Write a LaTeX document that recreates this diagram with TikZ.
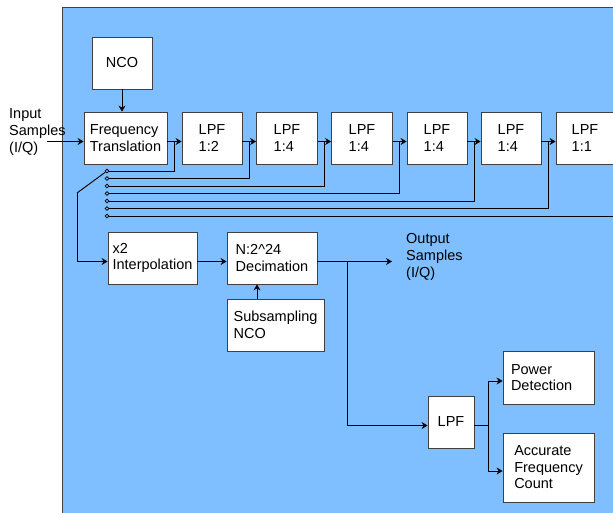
\documentclass[tikz,border=0pt]{standalone}
\usepackage{fontspec}
\setmainfont{Liberation Sans}
\usepackage{tikz}
\usetikzlibrary{arrows.meta,calc,positioning}
\definecolor{diagramblue}{HTML}{80BFFF}
\definecolor{framegray}{HTML}{404040}

\begin{document}
\begin{tikzpicture}[
  x=1pt, y=-1pt,
  >={Stealth[length=6pt,width=7pt]},
  box/.style={draw=framegray, fill=white, line width=0.8pt, align=left,
    inner sep=0pt, font=\fontsize{14.5}{16.5}\selectfont},
  lbl/.style={align=left, inner sep=0pt, font=\fontsize{14.5}{17}\selectfont},
  swpin/.style={circle, draw, fill=diagramblue, inner sep=0pt,
    minimum size=3.6pt, line width=0.7pt},
  wire/.style={line width=0.9pt},
  flow/.style={->, line width=0.9pt}
]
\useasboundingbox (0,0) rectangle (613,512);
\fill[white] (0,0) rectangle (613,512);
\draw[framegray, fill=diagramblue, line width=0.8pt] (62,7) rectangle (640,540);
\node[box,minimum width=60pt,minimum height=52pt] (nco) at (122,63) {NCO};
\node[box,minimum width=83pt,minimum height=52pt] (ft) at (125.5,138)
  {Frequency\\Translation};
\node[box,minimum width=60pt,minimum height=52pt] (lpfa) at (212,138) {LPF\\1:2};
\node[box,minimum width=61pt,minimum height=52pt] (lpfb) at (287,138) {LPF\\1:4};
\node[box,minimum width=61pt,minimum height=52pt] (lpfc) at (362,138) {LPF\\1:4};
\node[box,minimum width=60pt,minimum height=52pt] (lpfd) at (437,138) {LPF\\1:4};
\node[box,minimum width=60pt,minimum height=52pt] (lpfe) at (511,138) {LPF\\1:4};
\node[box,minimum width=58pt,minimum height=52pt] (lpff) at (585,138) {LPF\\1:1};
\node[box,minimum width=89pt,minimum height=52pt] (interp) at (152.5,258)
  {x2\\Interpolation};
\node[box,minimum width=90pt,minimum height=52pt] (decim) at (272,258)
  {N:2\^{}24\\Decimation};
\node[box,minimum width=97pt,minimum height=52pt] (subnco) at (275.5,325)
  {Subsampling\\NCO};
\node[box,minimum width=46pt,minimum height=52pt] (lpf) at (451,422) {LPF};
\node[box,text width=75pt,inner xsep=8pt,minimum height=53pt] (power)
  at (548.5,377.5) {Power\\Detection};
\node[box,minimum width=91pt,minimum height=69pt] (count) at (548.5,467.5)
  {Accurate\\Frequency\\Count};
\node[lbl,anchor=west] (inlbl) at (9,132) {Input\\Samples\\(I/Q)};
\node[lbl,anchor=west] (outlbl) at (406,257) {Output\\Samples\\(I/Q)};
\foreach \k in {0,...,6}
  \node[swpin] (sw\k) at (107,171+7.5*\k) {};
\coordinate (in) at (47,141.5);
\draw[flow] (in) -- ([yshift=-3.5pt]ft.west);
\draw[flow] (nco.south) -- (nco.south |- ft.north);
\foreach \a/\b/\k in {ft/lpfa/0,lpfa/lpfb/1,lpfb/lpfc/2,lpfc/lpfd/3,lpfd/lpfe/4,lpfe/lpff/5} {
  \draw[flow] ([yshift=-3.5pt]\a.east) -- ([yshift=-3.5pt]\b.west);
  \coordinate (tap\k) at ($([yshift=-3.5pt]\a.east)!0.5!([yshift=-3.5pt]\b.west)$);
  \draw[wire] (tap\k) |- (sw\k);
}
\coordinate (tap6) at (640,216);
\draw[wire] (tap6) -- (sw6);
\coordinate (arm) at (77,193);
\draw[wire] (arm) -- (sw0);
\draw[flow] (arm) |- ([yshift=-3.5pt]interp.west);
\draw[flow] ([yshift=-3.5pt]interp.east) -- ([yshift=-3.5pt]decim.west);
\coordinate (subtop) at ([xshift=-18.5pt]subnco.north);
\draw[flow] (subtop) -- (subtop |- decim.south);
\coordinate (outend) at (392,261.5);
\draw[flow] ([yshift=-3.5pt]decim.east) -- (outend);
\coordinate (branch) at (347,261.5);
\draw[flow] (branch) |- ([yshift=-3.5pt]lpf.west);
\coordinate (split) at (488,425.5);
\draw[wire] ([yshift=-3.5pt]lpf.east) -- (split);
\draw[flow] (split) |- ([yshift=-3.5pt]power.west);
\draw[flow] (split) |- ([yshift=-3.5pt]count.west);
\end{tikzpicture}
\end{document}
